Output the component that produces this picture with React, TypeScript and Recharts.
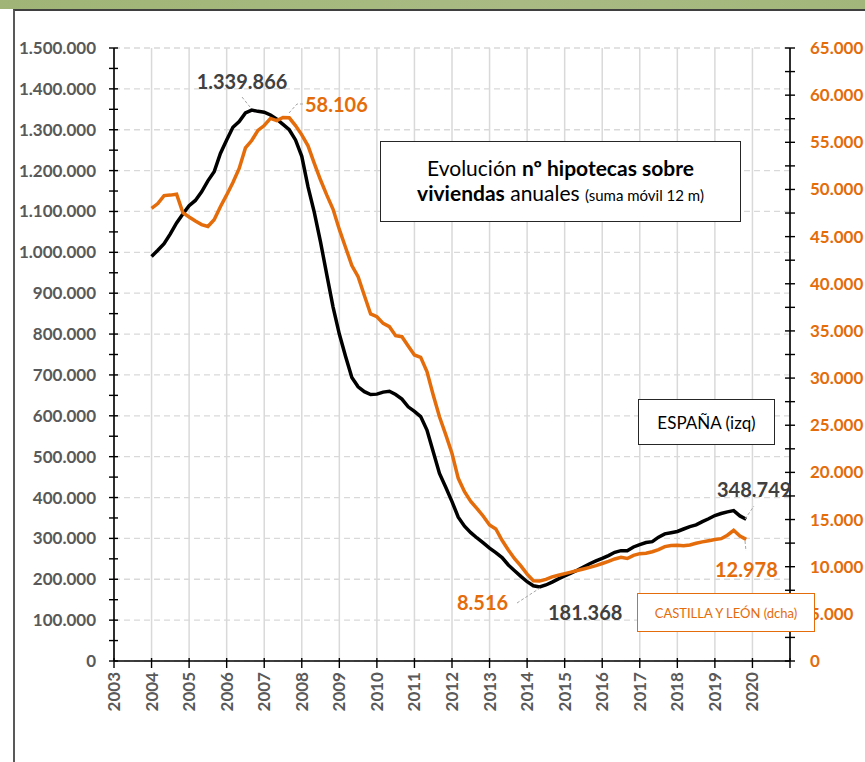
import React from 'react'
import { LineChart, Line, XAxis, YAxis, CartesianGrid } from 'recharts'

// meses (cada dos meses) ene-2004 .. nov-2019
const fechas = [
  '2004-01', '2004-03', '2004-05', '2004-07', '2004-09', '2004-11',
  '2005-01', '2005-03', '2005-05', '2005-07', '2005-09', '2005-11',
  '2006-01', '2006-03', '2006-05', '2006-07', '2006-09', '2006-11',
  '2007-01', '2007-03', '2007-05', '2007-07', '2007-09', '2007-11',
  '2008-01', '2008-03', '2008-05', '2008-07', '2008-09', '2008-11',
  '2009-01', '2009-03', '2009-05', '2009-07', '2009-09', '2009-11',
  '2010-01', '2010-03', '2010-05', '2010-07', '2010-09', '2010-11',
  '2011-01', '2011-03', '2011-05', '2011-07', '2011-09', '2011-11',
  '2012-01', '2012-03', '2012-05', '2012-07', '2012-09', '2012-11',
  '2013-01', '2013-03', '2013-05', '2013-07', '2013-09', '2013-11',
  '2014-01', '2014-03', '2014-05', '2014-07', '2014-09', '2014-11',
  '2015-01', '2015-03', '2015-05', '2015-07', '2015-09', '2015-11',
  '2016-01', '2016-03', '2016-05', '2016-07', '2016-09', '2016-11',
  '2017-01', '2017-03', '2017-05', '2017-07', '2017-09', '2017-11',
  '2018-01', '2018-03', '2018-05', '2018-07', '2018-09', '2018-11',
  '2019-01', '2019-03', '2019-05', '2019-07', '2019-09', '2019-11',
]

// España, hipotecas sobre viviendas (suma móvil 12 m)
const espana = [
  990000, 1005000, 1021000, 1045000, 1072000, 1094000,
  1114000, 1127000, 1148000, 1175000, 1197000, 1242000,
  1275000, 1306000, 1320000, 1341000, 1348000, 1345000,
  1343000, 1336000, 1326000, 1313000, 1300000, 1275000,
  1235000, 1160000, 1098000, 1025000, 945000, 866000,
  800000, 745000, 694000, 671000, 659000, 652000,
  653000, 658000, 660000, 652000, 641000, 622000,
  611000, 598000, 565000, 512000, 459000, 425000,
  390000, 352000, 330000, 314000, 301000, 289000,
  276000, 265000, 253000, 235000, 221000, 207000,
  194000, 184000, 181000, 186000, 193000, 201000,
  208000, 215000, 222000, 230000, 238000, 245000,
  251000, 258000, 266000, 270000, 270000, 279000,
  285000, 290000, 292000, 303000, 311000, 314000,
  317000, 323000, 329000, 333000, 341000, 348000,
  356000, 361000, 365000, 368000, 355000, 347000,
]

// Castilla y León
const castilla = [
  48000, 48500, 49350, 49400, 49500, 47550,
  47080, 46650, 46270, 46070, 46800, 48170,
  49420, 50740, 52230, 54400, 55190, 56260,
  56780, 57530, 57300, 57640, 57600, 56770,
  55790, 54630, 52770, 51000, 49400, 47900,
  45760, 43850, 41930, 40750, 38750, 36800,
  36500, 35800, 35450, 34500, 34390, 33400,
  32450, 32200, 30700, 28200, 25900, 24000,
  22000, 19370, 17960, 16930, 16160, 15350,
  14420, 14000, 12800, 11780, 10850, 10090,
  9210, 8510, 8480, 8650, 8920, 9090,
  9260, 9420, 9590, 9760, 9930, 10120,
  10340, 10560, 10820, 11000, 10870, 11200,
  11380, 11420, 11590, 11810, 12130, 12250,
  12280, 12210, 12300, 12480, 12630, 12760,
  12880, 12970, 13340, 13860, 13250, 12900,
]

const anios = [2003, 2004, 2005, 2006, 2007, 2008, 2009, 2010, 2011, 2012, 2013, 2014, 2015, 2016, 2017, 2018, 2019, 2020, 2021]
const ejeIzq = [0, 100000, 200000, 300000, 400000, 500000, 600000, 700000, 800000, 900000, 1000000, 1100000, 1200000, 1300000, 1400000, 1500000]
const ejeDcha = [0, 5000, 10000, 15000, 20000, 25000, 30000, 35000, 40000, 45000, 50000, 55000, 60000, 65000]

const NARANJA = '#e46c0a'
const GRIS = '#595959'
const FONT = 'Lato, "Open Sans", sans-serif'

const data = fechas.map((f, i) => {
  const [y, m] = f.split('-').map(Number)
  return { x: y + (m - 1) / 12, espana: espana[i], castilla: castilla[i] }
})

// marcas intermedias entre etiquetas
const withMinor = (arr: number[]) => {
  const out: number[] = []
  arr.forEach((v, i) => {
    out.push(v)
    if (i < arr.length - 1) out.push((v + arr[i + 1]) / 2)
  })
  return out
}
const ticksIzq = withMinor(ejeIzq)
const ticksDcha = withMinor(ejeDcha)

const fmt = (v: number) => String(Math.round(v)).replace(/\B(?=(\d{3})+(?!\d))/g, '.')

const LeftTick = (props: any) => {
  const { x, y, payload } = props
  const ax = x + 18
  const major = ejeIzq.includes(payload.value)
  return (
    <g>
      <line x1={ax - 5} x2={ax + 4} y1={y} y2={y} stroke="#000" strokeWidth={1.4} />
      {major && (
        <text x={x} y={y} dy={6} textAnchor="end" fill={GRIS} fontSize={17} fontWeight={700} fontFamily={FONT}>
          {fmt(payload.value)}
        </text>
      )}
    </g>
  )
}

const RightTick = (props: any) => {
  const { x, y, payload } = props
  const ax = x - 20
  const major = ejeDcha.includes(payload.value)
  return (
    <g>
      <line x1={ax - 5} x2={ax + 5} y1={y} y2={y} stroke="#000" strokeWidth={1.4} />
      {major && (
        <text x={x} y={y} dy={6} textAnchor="start" fill={NARANJA} fontSize={17} fontWeight={700} fontFamily={FONT}>
          {fmt(payload.value)}
        </text>
      )}
    </g>
  )
}

const XTick = (props: any) => {
  const { x, y, payload } = props
  const ay = y - 11
  return (
    <g>
      <line x1={x} x2={x} y1={ay - 3} y2={ay + 7} stroke="#000" strokeWidth={1.4} />
      {payload.value < 2021 && (
        <text
          x={x}
          y={y}
          dy={6}
          textAnchor="end"
          transform={`rotate(-90, ${x}, ${y})`}
          fill={GRIS}
          fontSize={17}
          fontWeight={700}
          fontFamily={FONT}
        >
          {payload.value}
        </text>
      )}
    </g>
  )
}

const lbl = { fontFamily: FONT, fontWeight: 700, fontSize: 20 }

export default function App() {
  return (
    <div style={{ position: 'absolute', left: 0, top: 0, width: 865, height: 762, overflow: 'hidden', background: '#fff' }}>
      <div style={{ position: 'absolute', left: 0, top: 0, width: 865, height: 9, background: 'linear-gradient(90deg, #9fb476, #a9bb83 60%, #a2b67b)' }} />
      <div style={{ position: 'absolute', left: 13, top: 9, width: 900, height: 800, borderLeft: '2px solid #595959', borderTop: '2px solid #3f3f3f' }} />

      <div style={{ position: 'absolute', left: 0, top: 0 }}>
        <LineChart width={865} height={762} data={data} margin={{ top: 48, right: 0, bottom: 41, left: 14 }}>
          <CartesianGrid yAxisId="left" vertical={false} horizontalValues={ejeIzq} stroke="#d9d9d9" strokeDasharray="6 4" strokeWidth={1.3} />
          <CartesianGrid yAxisId="left" horizontal={false} verticalValues={anios} stroke="#d9d9d9" strokeWidth={1.5} />
          <XAxis
            dataKey="x"
            type="number"
            domain={[2003, 2021]}
            ticks={anios}
            interval={0}
            height={60}
            tickSize={0}
            tickMargin={11}
            tickLine={false}
            axisLine={{ stroke: '#000', strokeWidth: 1.6 }}
            tick={<XTick />}
          />
          <YAxis
            yAxisId="left"
            domain={[0, 1500000]}
            ticks={ticksIzq}
            interval={0}
            width={100}
            tickSize={0}
            tickMargin={18}
            tickLine={false}
            axisLine={{ stroke: '#000', strokeWidth: 1.6 }}
            tick={<LeftTick />}
          />
          <YAxis
            yAxisId="right"
            orientation="right"
            domain={[0, 65000]}
            ticks={ticksDcha}
            interval={0}
            width={75}
            tickSize={0}
            tickMargin={20}
            tickLine={false}
            axisLine={{ stroke: '#000', strokeWidth: 1.6 }}
            tick={<RightTick />}
          />
          <Line yAxisId="left" dataKey="espana" stroke="#000" strokeWidth={3.5} dot={false} isAnimationActive={false} />
          <Line yAxisId="right" dataKey="castilla" stroke={NARANJA} strokeWidth={3.5} dot={false} isAnimationActive={false} />
        </LineChart>
      </div>

      <svg width={865} height={762} style={{ position: 'absolute', left: 0, top: 0, pointerEvents: 'none' }}>
        <g stroke="#a6a6a6" strokeWidth={1} strokeDasharray="3 2" fill="none">
          <polyline points="242,97 250,107" />
          <polyline points="289,113 297,104 303,104" />
          <polyline points="745,519 754,506" />
          <polyline points="745,541 746,551" />
          <polyline points="517,603 540,588" />
        </g>
        <text x={242} y={89} textAnchor="middle" fill="#404040" style={lbl}>1.339.866</text>
        <text x={305} y={112} fill={NARANJA} style={lbl}>58.106</text>
        <text x={717} y={497} fill="#404040" style={lbl}>348.749</text>
        <text x={715} y={577} fill={NARANJA} style={lbl}>12.978</text>
        <text x={457} y={610} fill={NARANJA} style={lbl}>8.516</text>
        <text x={548} y={620} fill="#404040" style={lbl}>181.368</text>
      </svg>

      <div
        style={{
          position: 'absolute', left: 380, top: 141, width: 361, height: 81, boxSizing: 'border-box',
          border: '1.5px solid #262626', background: '#fff', fontFamily: FONT, color: '#000',
          display: 'flex', flexDirection: 'column', justifyContent: 'center', alignItems: 'center', lineHeight: '25px',
        }}
      >
        <div style={{ fontSize: 21 }}>
          Evolución <b>nº hipotecas sobre</b>
        </div>
        <div style={{ fontSize: 21 }}>
          <b>viviendas</b> anuales <span style={{ fontSize: 15 }}>(suma móvil 12 m)</span>
        </div>
      </div>

      <div
        style={{
          position: 'absolute', left: 638, top: 399, width: 137, height: 46, boxSizing: 'border-box',
          border: '1.3px solid #262626', background: '#fff', fontFamily: FONT, fontSize: 17, color: '#000',
          display: 'flex', justifyContent: 'center', alignItems: 'center',
        }}
      >
        ESPAÑA (izq)
      </div>

      <div
        style={{
          position: 'absolute', left: 637, top: 593, width: 178, height: 39, boxSizing: 'border-box',
          border: `1.3px solid ${NARANJA}`, background: '#fff', fontFamily: FONT, fontSize: 13, color: NARANJA,
          display: 'flex', justifyContent: 'center', alignItems: 'center',
        }}
      >
        CASTILLA Y LEÓN (dcha)
      </div>
    </div>
  )
}
